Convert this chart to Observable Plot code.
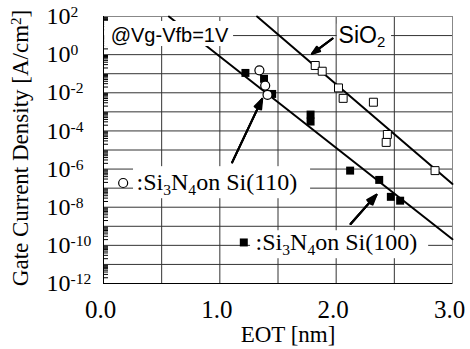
<!DOCTYPE html>
<html><head><meta charset="utf-8">
<script src="https://cdn.jsdelivr.net/npm/d3@7"></script>
<script src="https://cdn.jsdelivr.net/npm/@observablehq/plot@0.6"></script>
<style>body{margin:0;background:#fff} svg{display:block}</style>
</head><body><div id="chart"></div>
<script>
// ---- data (EOT in nm, gate current density in A/cm^2) ----
const eotSi100 = [1.22, 1.38, 1.45, 1.78, 1.78, 2.12, 2.37, 2.47, 2.55];
const jSi100   = [1.1e-1, 5.4e-2, 8.7e-3, 7.2e-4, 3.1e-4, 8.3e-7, 2.7e-7, 3.5e-8, 2.2e-8];
const eotSi110 = [1.34, 1.39, 1.41];
const jSi110   = [1.5e-1, 2.4e-2, 7.8e-3];
const eotSiO2  = [1.82, 1.88, 2.02, 2.06, 2.32, 2.44, 2.43, 2.85];
const jSiO2    = [2.7e-1, 1.35e-1, 1.8e-2, 5.1e-3, 3.2e-3, 6.5e-5, 2.5e-5, 8.3e-7];
// fitted trend lines (end points)
const fitSiO2EOT  = [1.32, 3.0];
const fitSiO2J    = [1e2, 1.66e-7];
const fitSi3N4EOT = [0.562, 3.0];
const fitSi3N4J   = [1e2, 2.1e-10];
// tick labels
const xTickVals = [0, 1, 2, 3];
const yTickExps = [2, 0, -2, -4, -6, -8, -10, -12];

// annotation geometry in data units
const boxes = [
  {x1: 0.01, x2: 1.118, y1: 10 ** 1.738, y2: 10 ** 0.425},
  {x1: 2.01, x2: 2.476, y1: 10 ** 1.6, y2: 10 ** 0.11},
  {x1: 0.258, x2: 1.78, y1: 10 ** -5.874, y2: 10 ** -7.554},
  {x1: 1.264, x2: 2.795, y1: 10 ** -9.234, y2: 10 ** -10.70}
];
const arrows = [
  {x1: 1.969, y1: 10 ** 0.845, x2: 1.792, y2: 10 ** 0.042},
  {x1: 1.106, y1: 10 ** -5.648, x2: 1.364, y2: 10 ** -2.32},
  {x1: 2.124, y1: 10 ** -8.88, x2: 2.347, y2: 10 ** -7.344}
];
const condNote = [{text: "@Vg-Vfb=1V", x: 0.5675, y: 10}];
const sio2Note = [{text: "SiO_{2}", x: 2.021, y: 10}];
const serifNotes = [
  {text: ":Si_{3}N_{4}on Si(110)", x: 0.284, y: 10 ** -6.70},
  {text: ":Si_{3}N_{4}on Si(100)", x: 1.307, y: 10 ** -9.86}
];
const legendCircle = [{x: 0.169, y: 10 ** -6.73}];
const legendSquare = [{x: 1.206, y: 10 ** -9.848}];

const serif = "'Liberation Serif','Times New Roman',serif";
const sans = "'Liberation Sans',Arial,sans-serif";

const si100 = eotSi100.map((x, i) => ({x, y: jSi100[i]}));
const si110 = eotSi110.map((x, i) => ({x, y: jSi110[i]}));
const sio2 = eotSiO2.map((x, i) => ({x, y: jSiO2[i]}));
const fitA = fitSiO2EOT.map((x, i) => ({x, y: fitSiO2J[i]}));
const fitB = fitSi3N4EOT.map((x, i) => ({x, y: fitSi3N4J[i]}));

const xGrid = [0.5, 1, 1.5, 2, 2.5];
const yGrid = d3.range(-11, 2).map(e => 10 ** e);
const minor = [];
for (let e = -12; e < 2; e++) for (let k = 2; k <= 9; k++) minor.push(k * 10 ** e);

const headAngles = [40, 28, 16];

const chart = Plot.plot({
  width: 470, height: 349,
  marginLeft: 103, marginRight: 18, marginTop: 16, marginBottom: 66,
  x: {domain: [0, 3], axis: null},
  y: {type: "log", domain: [1e-12, 1e2], axis: null},
  style: {background: "white"},
  marks: [
    Plot.ruleX(xGrid, {stroke: "#333"}),
    Plot.ruleY(yGrid, {stroke: "#333"}),
    Plot.frame({stroke: "#888"}),
    Plot.ruleX([0], {stroke: "#000"}),
    Plot.ruleY([1e-12], {stroke: "#000"}),
    Plot.axisY(minor, {anchor: "left", tickSize: -5, tickFormat: () => "", label: null, stroke: "#000"}),
    Plot.line(fitA, {x: "x", y: "y", stroke: "#000", strokeWidth: 2}),
    Plot.line(fitB, {x: "x", y: "y", stroke: "#000", strokeWidth: 2}),
    Plot.rect(boxes, {x1: "x1", x2: "x2", y1: "y1", y2: "y2", fill: "white"}),
    Plot.dot(sio2, {x: "x", y: "y", symbol: "square", r: 4.5, fill: "white", stroke: "#000", strokeWidth: 1}),
    Plot.dot(si100, {x: "x", y: "y", symbol: "square", r: 4.5, fill: "#000", stroke: "none"}),
    Plot.dot(si110, {x: "x", y: "y", symbol: "circle", r: 4.5, fill: "white", stroke: "#000", strokeWidth: 1.2}),
    Plot.dot(legendCircle, {x: "x", y: "y", symbol: "circle", r: 4.5, fill: "white", stroke: "#000", strokeWidth: 1.2}),
    Plot.dot(legendSquare, {x: "x", y: "y", symbol: "square", r: 4.5, fill: "#000", stroke: "none"}),
    ...headAngles.map(a => Plot.arrow(arrows, {x1: "x1", y1: "y1", x2: "x2", y2: "y2", stroke: "#000", strokeWidth: 2, headAngle: a, headLength: 8})),
    Plot.text(condNote, {x: "x", y: "y", text: "text", fontSize: 20, textAnchor: "middle", fontFamily: sans, fill: "#000"}),
    Plot.text(sio2Note, {x: "x", y: "y", text: "text", fontSize: 23, textAnchor: "start", fontFamily: sans, fill: "#000"}),
    Plot.text(serifNotes, {x: "x", y: "y", text: "text", fontSize: 24, textAnchor: "start", fontFamily: serif, fill: "#000"}),
    Plot.text(yTickExps, {y: d => 10 ** d, frameAnchor: "left", dx: -57, textAnchor: "start", lineAnchor: "middle", text: d => `10^{${d}}`, fontSize: 24, fontFamily: serif, fill: "#000"}),
    Plot.text(xTickVals, {x: d => d, frameAnchor: "bottom", dy: 26, dx: -3, lineAnchor: "middle", text: d => d.toFixed(1), fontSize: 25, fontFamily: serif, fill: "#000"}),
    Plot.text(["Gate Current Density [A/cm^{2}]"], {frameAnchor: "left", rotate: -90, dx: -83, dy: -2, textAnchor: "middle", lineAnchor: "middle", fontSize: 23, fontFamily: serif, fill: "#000"}),
    Plot.text(["EOT [nm]"], {frameAnchor: "bottom", dx: 10, dy: 51, textAnchor: "middle", lineAnchor: "middle", fontSize: 23, fontFamily: serif, fill: "#000"})
  ]
});

// render sub/superscript markup as real tspans
for (const t of chart.querySelectorAll("text")) {
  const s = t.textContent;
  if (!/[_^]\{/.test(s)) continue;
  while (t.firstChild) t.removeChild(t.firstChild);
  for (const part of s.split(/([_^]\{[^}]*\})/)) {
    if (!part) continue;
    const ts = document.createElementNS("http://www.w3.org/2000/svg", "tspan");
    const m = part.match(/^([_^])\{([^}]*)\}$/);
    if (m) {
      ts.textContent = m[2];
      ts.setAttribute("font-size", "0.65em");
      ts.setAttribute("baseline-shift", m[1] === "^" ? "0.45em" : "-0.3em");
    } else ts.textContent = part;
    t.appendChild(ts);
  }
}
document.getElementById("chart").appendChild(chart);
</script>
</body></html>
